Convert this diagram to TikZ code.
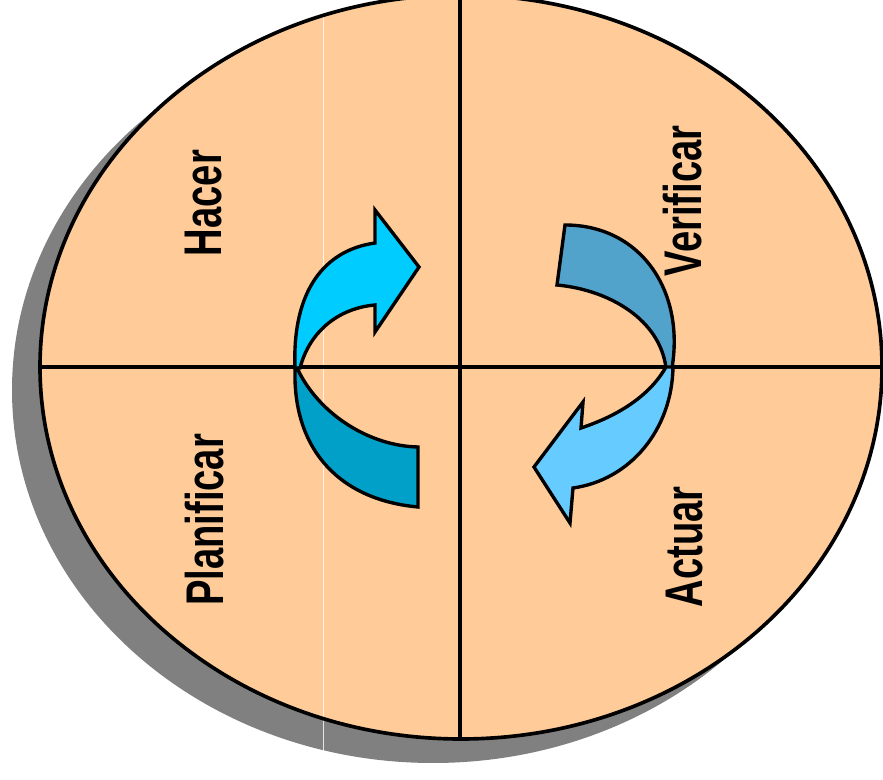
\documentclass[tikz,border=0pt]{standalone}
\usepackage{fontspec}
\setmainfont{Liberation Sans}
\usepackage{tikz}
\definecolor{peach}{HTML}{FFCC99}
\definecolor{shadowgray}{HTML}{808080}
\definecolor{cyanup}{HTML}{00CCFF}
\definecolor{cyanlow}{HTML}{00A0C8}
\definecolor{steelup}{HTML}{52A3CC}
\definecolor{skylow}{HTML}{66CCFF}
\newcommand{\phase}[1]{\scalebox{0.72}[1]{#1}}
\tikzset{
  rim/.style={draw=black, line width=2.6pt},
  axis/.style={draw=black, line width=2.6pt},
  band/.style={draw=black, line width=2.4pt, line join=miter},
  phasename/.style={rotate=90, anchor=center, inner sep=0pt,
                    font=\bfseries\fontsize{37.7}{40}\selectfont},
}
\begin{document}
\begin{tikzpicture}[x=0.025cm, y=-0.025cm]
  \useasboundingbox (0,0) rectangle (883,780);
  % shadow and disc
  \fill[shadowgray] (433,390) ellipse [x radius=421, y radius=373];
  \fill[peach] (461,367) ellipse [x radius=421, y radius=372];
  \draw[white, opacity=0.8, line width=0.6pt] (323,16) -- (323,751);
  \draw[rim] (461,367) ellipse [x radius=421, y radius=372];
  \draw[axis] (40,367) -- (882,367);
  \draw[axis] (460,0) -- (460,739);
  % quadrant names
  \node[phasename] (hacer) at (204,203) {\phase{Hacer}};
  \node[phasename] (planificar) at (205,520) {\phase{Planificar}};
  \node[phasename] (verificar) at (683,201) {\phase{Verificar}};
  \node[phasename] (actuar) at (685,547) {\phase{Actuar}};
  % left arrow
  \filldraw[band, fill=cyanlow] (295,370) .. controls (293,450) and (340,500) .. (418,507)
    -- (418,447) .. controls (370,446) and (320,415) .. (298,370) -- cycle;
  \filldraw[band, fill=cyanup] (295,368) .. controls (292,290) and (325,250) .. (375,243)
    -- (375,210) -- (419,267) -- (375,332) -- (375,305)
    .. controls (340,308) and (310,330) .. (300,368) -- cycle;
  % right arrow
  \filldraw[band, fill=steelup] (565,225) -- (557,285)
    .. controls (610,290) and (660,320) .. (666,368) -- (672,368)
    .. controls (685,290) and (640,225) .. (565,225) -- cycle;
  \filldraw[band, fill=skylow] (673,367) .. controls (672,430) and (630,480) .. (573,488)
    -- (570,523) -- (534,467) -- (583,402) -- (581,428)
    .. controls (620,415) and (650,395) .. (666,367) -- cycle;
\end{tikzpicture}
\end{document}
